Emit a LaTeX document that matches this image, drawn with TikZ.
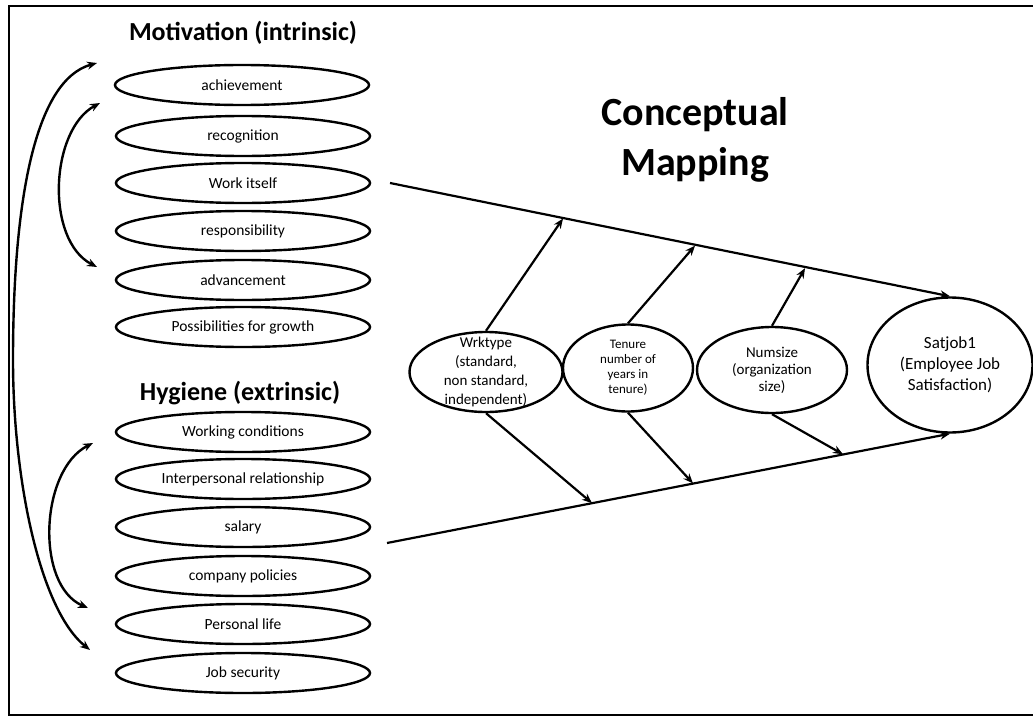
\documentclass[tikz,border=0pt]{standalone}
\usepackage{fontspec}
\setmainfont{Carlito}
\usetikzlibrary{shapes.geometric,arrows.meta}

\begin{document}
\begin{tikzpicture}[x=1pt,y=-1pt,>={Stealth[length=10pt,width=8pt]},
  factor/.style={draw,ellipse,line width=2.4pt,minimum width=254pt,minimum height=40pt,inner sep=0pt,font=\fontsize{15.5}{17}\selectfont},
  var/.style={draw,ellipse,line width=2.4pt,inner sep=0pt},
  heading/.style={font=\bfseries\fontsize{26}{30}\selectfont},
  link/.style={->,line width=2.2pt}]

  \useasboundingbox (0,0) rectangle (1033,717);
  \draw[line width=1.5pt] (1033,6) -- (9,6) -- (9,715) -- (1033,715);

  \node[heading] (mot) at (243,33) {Motivation (intrinsic)};
  \node[factor] (ach) at (242,85) {achievement};
  \node[factor] (rec) at (243,136) {recognition};
  \node[factor] (wrk) at (243,183) {Work itself};
  \node[factor] (res) at (243,231) {responsibility};
  \node[factor] (adv) at (243,280) {advancement};
  \node[factor] (gro) at (243,327) {Possibilities for growth};

  \node[heading] (hyg) at (240,393) {Hygiene (extrinsic)};
  \node[factor] (con) at (243,432) {Working conditions};
  \node[factor] (rel) at (243,479) {Interpersonal relationship};
  \node[factor] (sal) at (243,527) {salary};
  \node[factor] (pol) at (243,576) {company policies};
  \node[factor] (per) at (243,624) {Personal life};
  \node[factor] (sec) at (243,673) {Job security};

  \coordinate (m1) at (97,63);
  \coordinate (m2) at (100,103);
  \coordinate (m3) at (97,267);
  \coordinate (h1) at (93,443);
  \coordinate (h2) at (88,608);
  \coordinate (h3) at (90,650);
  \draw[<->,line width=2.4pt] (m1) .. controls (35,80) and (13,200) .. (13,360) .. controls (13,480) and (40,610) .. (h3);
  \draw[<->,line width=2.4pt] (m2) .. controls (50,130) and (45,240) .. (m3);
  \draw[<->,line width=2.4pt] (h1) .. controls (40,470) and (35,585) .. (h2);

  \node[font=\bfseries\fontsize{40}{50}\selectfont,align=center] (title) at (695,140) {Conceptual\\Mapping};

  \node[var,minimum width=153pt,minimum height=80pt,
    label={[align=center,font=\fontsize{15}{19}\selectfont]center:{Wrktype\\(standard,\\non standard,\\independent)}}] (type) at (486,372) {};
  \node[var,minimum width=130pt,minimum height=87pt,
    label={[align=center,font=\fontsize{13}{15}\selectfont]center:{Tenure\\number of\\years in\\tenure)}}] (ten) at (628,368) {};
  \node[var,minimum width=150pt,minimum height=86pt,
    label={[align=center,font=\fontsize{15}{17}\selectfont]center:{Numsize\\(organization\\size)}}] (size) at (772,370) {};
  \node[var,minimum width=165pt,minimum height=135pt,
    label={[align=center,font=\fontsize{17}{21}\selectfont]center:{Satjob1\\(Employee Job\\Satisfaction)}}] (sat) at (950,365) {};

  \coordinate (up) at (390,183);
  \coordinate (lo) at (387,543);
  \coordinate (u1) at (563,218.5);
  \coordinate (u2) at (695,245.6);
  \coordinate (u3) at (805,268.2);
  \coordinate (l1) at (592,503.1);
  \coordinate (l2) at (693,483.4);
  \coordinate (l3) at (843,454.3);
  \draw[link] (up) -- (sat.north);
  \draw[link] (lo) -- (sat.south);
  \draw[link] (type.north) -- (u1);
  \draw[link] (ten.north) -- (u2);
  \draw[link] (size.north) -- (u3);
  \draw[link] (type.south) -- (l1);
  \draw[link] (ten.south) -- (l2);
  \draw[link] (size.south) -- (l3);

\end{tikzpicture}
\end{document}
